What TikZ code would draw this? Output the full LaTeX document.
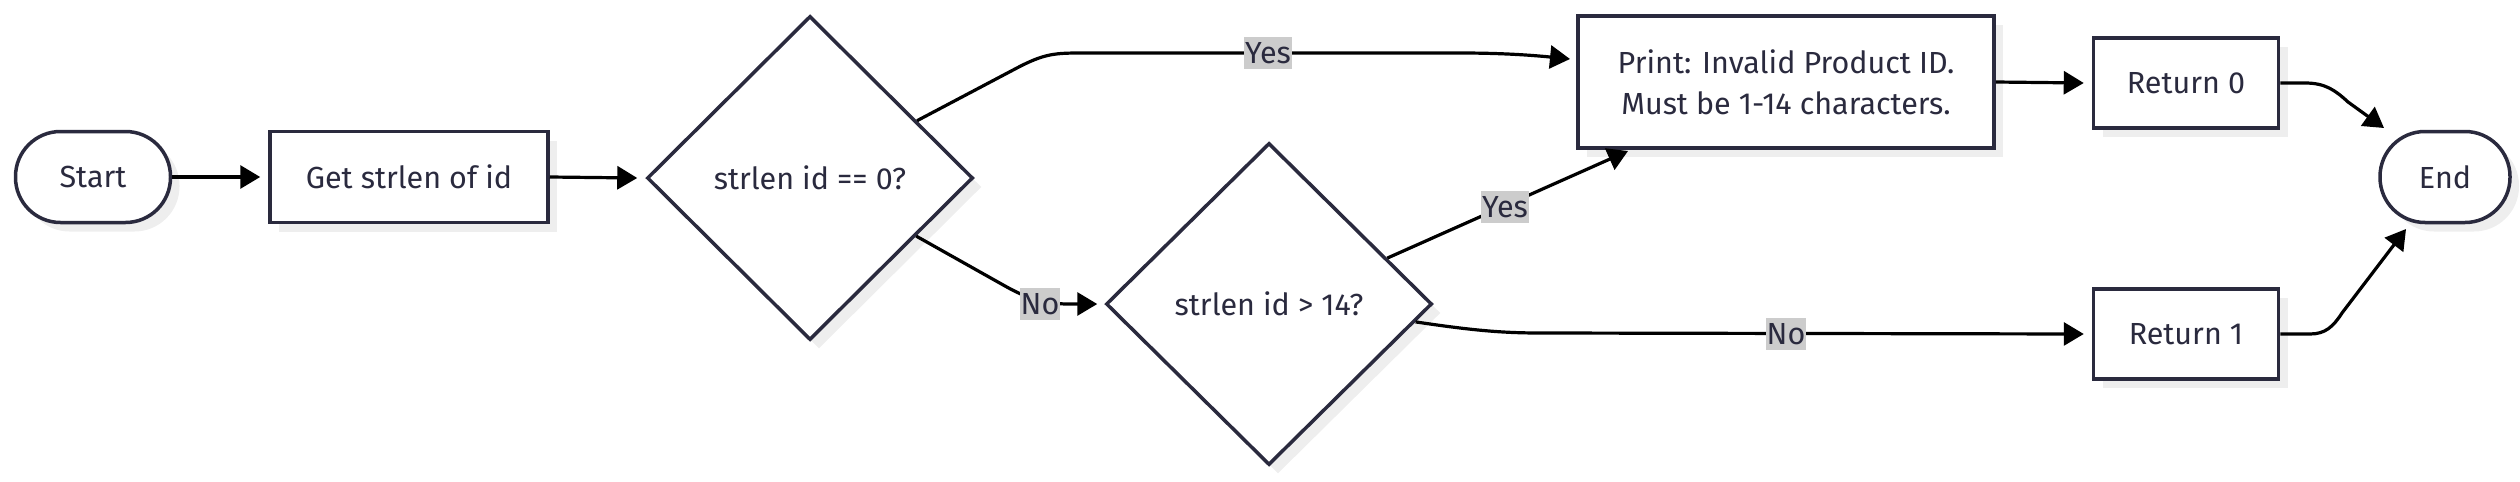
\documentclass[tikz,border=0pt]{standalone}
\usepackage{fontspec}
\setmainfont{Fira Sans}
\usetikzlibrary{arrows.meta,shapes.geometric,shadows,calc}
\definecolor{ink}{HTML}{2A2A3E}
\definecolor{shade}{HTML}{EEEEEE}
\definecolor{lblbg}{HTML}{CCCCCC}
\tikzset{
  base/.style={draw=ink, line width=3.5pt, fill=white, text=ink, font=\fontsize{30.5}{41}\selectfont,
    drop shadow={shadow xshift=9pt, shadow yshift=-9pt, fill=shade, opacity=1}},
  terminal/.style={base, rounded corners=45pt, minimum height=91pt, inner sep=0pt},
  procbox/.style={base, rectangle, minimum height=91pt, inner sep=0pt},
  decision/.style={base, diamond, inner sep=0pt},
  conn/.style={draw=black, line width=3.2pt, -{Triangle[length=20pt,width=23pt]}},
  lbl/.style={fill=lblbg, text=ink, font=\fontsize{30.5}{36}\selectfont, inner xsep=1pt, inner ysep=5pt}
}
\begin{document}
\begin{tikzpicture}[x=1pt,y=-1pt]
\useasboundingbox (0,0) rectangle (2520,482);
\node[terminal, minimum width=155pt] (start) at (93,177) {Start};
\node[procbox, minimum width=278pt] (get) at (409,177) {Get strlen of id};
\node[decision, minimum width=326pt, minimum height=324pt] (d1) at (810,178) {strlen id == 0?};
\node[decision, minimum width=326pt, minimum height=322pt] (d2) at (1269,304) {strlen id > 14?};
\node[procbox, minimum width=416pt, minimum height=132pt, align=center] (print) at (1786,82) {Print: Invalid Product ID.\\Must be 1-14 characters.};
\node[procbox, minimum width=185pt, minimum height=90pt] (r0) at (2186,83) {Return 0};
\node[procbox, minimum width=185pt, minimum height=90pt] (r1) at (2186,334) {Return 1};
\node[terminal, minimum width=130pt] (end) at (2445,177) {End};

\coordinate (d1a) at ($(d1.north)!0.65!(d1.east)$);
\coordinate (d1b) at ($(d1.south)!0.645!(d1.east)$);
\coordinate (d2a) at ($(d2.north)!0.718!(d2.east)$);
\coordinate (d2b) at ($(d2.east)!0.11!(d2.south)$);
\coordinate (pin) at (1570,59);
\coordinate (pbot) at (1628,151);
\coordinate (e0) at (2384,128);
\coordinate (e1) at (2406,229);

\draw[conn] (start.east) -- ([xshift=-8pt]get.west);
\draw[conn] (get.east) -- ([xshift=-8pt]d1.west);
\draw[conn] (d1a) -- (1015,69) .. controls (1045,53) and (1055,53) .. (1085,53)
  -- (1460,53) .. controls (1500,53) and (1530,55) .. (pin);
\node[lbl] (ly1) at (1268,53) {Yes};
\draw[conn] (d1b) -- (1005,286) .. controls (1030,300) and (1045,303) .. (1065,304)
  -- ([xshift=-7pt]d2.west);
\node[lbl] (ln1) at (1040,304) {No};
\draw[conn] (d2a) -- (pbot);
\node[lbl] (ly2) at (1505,207) {Yes};
\draw[conn] (d2b) .. controls (1470,330) and (1500,333) .. (1540,333)
  -- ([xshift=-8pt]r1.west);
\node[lbl] (ln2) at (1786,334) {No};
\draw[conn] (print.east) -- ([xshift=-8pt]r0.west);
\draw[conn] (r0.east) -- (2305,83) .. controls (2325,83) and (2335,90) .. (2348,102) -- (e0);
\draw[conn] (r1.east) -- (2310,334) .. controls (2325,334) and (2333,327) .. (2342,313) -- (e1);
\end{tikzpicture}
\end{document}
